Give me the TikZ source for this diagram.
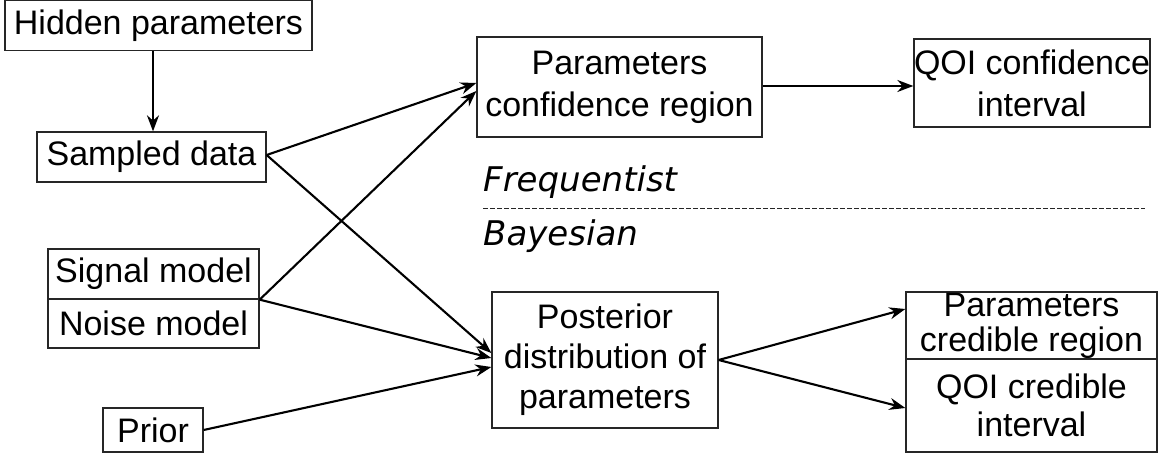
\documentclass[tikz,border=0pt]{standalone}
\usepackage{fontspec}
\setmainfont{Liberation Sans}
\newfontfamily\dejavu{DejaVu Sans}
\usetikzlibrary{arrows.meta}
\newcommand\boxfont{\fontsize{34}{42}\selectfont}
\newcommand\btext[3]{\parbox[c][#2][c]{#1}{\centering #3}}
\begin{document}
\begin{tikzpicture}[x=1pt,y=-1pt,
  box/.style={draw=black!85, line width=1.3pt, inner sep=0pt, font=\boxfont},
  arr/.style={-{Stealth[length=16pt,width=12pt]}, line width=2.1pt},
  lbl/.style={font=\dejavu\itshape\fontsize{34}{40}\selectfont, inner sep=0pt, anchor=base west}]
\useasboundingbox (0,0) rectangle (1173,454);
% boxes
\node[box] (hidden) at (158.5,25.5) {\btext{307pt}{50pt}{Hidden parameters}};
\node[box] (sampled) at (151.5,157) {\btext{229pt}{50pt}{Sampled data}};
\node[box] (signal) at (153.5,274) {\btext{211pt}{50pt}{Signal model}};
\node[box] (noise) at (153.5,323.5) {\btext{211pt}{49pt}{Noise model}};
\node[box] (prior) at (153,430) {\btext{100pt}{44pt}{Prior}};
\node[box] (pconf) at (619.5,87) {\btext{285pt}{100pt}{Parameters\\confidence region}};
\node[box] (qconf) at (1032,83) {\btext{236pt}{88pt}{QOI confidence\\interval}};
\node[box] (post) at (605,360) {\btext{226pt}{136pt}{\fontsize{34}{40}\selectfont Posterior\\distribution of\\parameters}};
\node[box] (pcred) at (1031.5,325.5) {\btext{251pt}{67pt}{\fontsize{34}{35}\selectfont Parameters\\credible region}};
\node[box] (qcred) at (1031.5,405.5) {\btext{251pt}{93pt}{\fontsize{34}{38}\selectfont QOI credible\\interval}};
% labels
\node[lbl] (freq) at (483,192) {Frequentist};
\node[lbl] (bayes) at (483,246) {Bayesian};
\coordinate (dashL) at (483,209);
\coordinate (dashR) at (1145,209);
\draw[line width=1pt, dash pattern=on 5pt off 2pt, black!85] (dashL) -- (dashR);
% connectors
\draw[arr] (153,0 |- hidden.south) -- (153,0 |- sampled.north);
\draw[arr] (sampled.east |- 0,155) -- (pconf.west |- 0,83);
\draw[arr] (signal.south east) -- (pconf.west |- 0,91);
\draw[arr] (sampled.east |- 0,155) -- (post.west |- 0,353);
\draw[arr] (signal.south east) -- (post.west |- 0,358);
\draw[arr] (prior.east |- 0,430) -- (post.west |- 0,367);
\draw[arr] (pconf.east |- 0,86) -- (qconf.west |- 0,86);
\draw[arr] (post.east) -- (pcred.west |- 0,309);
\draw[arr] (post.east) -- (qcred.west |- 0,408);
\end{tikzpicture}
\end{document}
